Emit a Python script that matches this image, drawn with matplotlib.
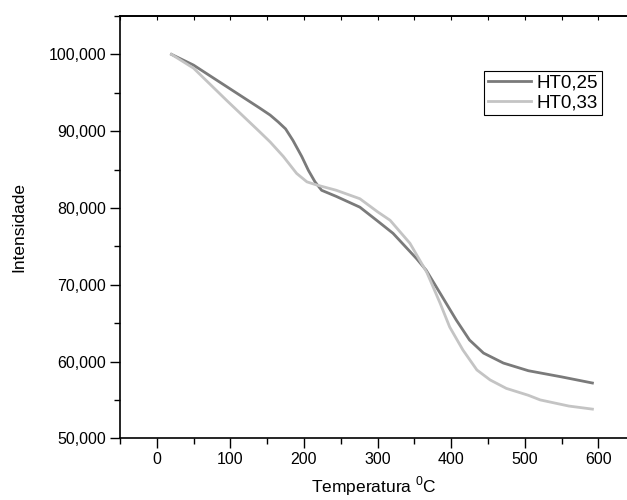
import numpy as np
import matplotlib
matplotlib.use('Agg')
import matplotlib.pyplot as plt
from matplotlib.ticker import MultipleLocator, FuncFormatter

plt.rcParams['font.family'] = ['Liberation Sans', 'DejaVu Sans']

# temperatura (C) / intensidade (%)
temp_25 = [20, 50, 95, 140, 154, 165, 175, 185, 197, 206, 215, 224, 244, 276, 300,
           321, 353, 366, 385, 407, 425, 444, 471, 505, 550, 592]
int_25 = [100.0, 98.6, 95.8, 93.0, 92.1, 91.2, 90.3, 88.8, 86.7, 84.9, 83.4, 82.3,
          81.5, 80.1, 78.3, 76.7, 73.4, 71.9, 68.9, 65.4, 62.8, 61.1, 59.8, 58.8,
          58.0, 57.2]

temp_33 = [20, 50, 95, 140, 154, 172, 190, 204, 217, 244, 276, 300, 317, 344,
           367, 385, 398, 416, 435, 453, 475, 505, 521, 560, 592]
int_33 = [100.0, 98.2, 94.0, 89.9, 88.6, 86.7, 84.5, 83.4, 83.0, 82.3, 81.2, 79.5,
          78.4, 75.4, 71.6, 67.6, 64.5, 61.5, 58.9, 57.6, 56.5, 55.6, 55.0, 54.2, 53.8]

fig = plt.figure(figsize=(6.27, 5.0), dpi=100)
ax = fig.add_axes([0.1914, 0.1234, 0.8086, 0.8446])

ax.plot(temp_25, int_25, color='#7a7a7a', lw=2.0, label='HT0,25')
ax.plot(temp_33, int_33, color='#c4c4c4', lw=2.0, label='HT0,33')

ax.set_xlim(-50, 639)
ax.set_ylim(50, 105)
ax.xaxis.set_major_locator(MultipleLocator(100))
ax.xaxis.set_minor_locator(MultipleLocator(50))
ax.yaxis.set_major_locator(MultipleLocator(10))
ax.yaxis.set_minor_locator(MultipleLocator(5))
ax.yaxis.set_major_formatter(FuncFormatter(lambda v, p: ('%.3f' % v).replace('.', ',')))

ax.spines['right'].set_visible(False)
for s in ax.spines.values():
    s.set_linewidth(1.2)
ax.tick_params(axis='both', which='major', direction='out', length=7, width=1.0,
               labelsize=11.5, pad=3)
ax.tick_params(axis='both', which='minor', direction='out', length=4, width=1.0)
ax.tick_params(right=False, top=False, which='both')

sec = ax.secondary_xaxis('top')
sec.xaxis.set_major_locator(MultipleLocator(50))
sec.tick_params(direction='in', length=3, labeltop=False, width=0.8)
sec.spines['top'].set_linewidth(1.2)

ax.set_xlabel('Temperatura $^{\\mathregular{0}}$C', fontsize=12.5, labelpad=5)
ax.set_ylabel('Intensidade', fontsize=12.5, labelpad=16)

leg = ax.legend(loc='upper right', bbox_to_anchor=(0.951, 0.87), fontsize=13.5,
                frameon=True, fancybox=False, edgecolor='black', framealpha=1,
                handlelength=2.3, handletextpad=0.3, borderpad=0.2, labelspacing=0.15,
                borderaxespad=0)
leg.get_frame().set_linewidth(0.8)

plt.savefig('out.png', dpi=100)
